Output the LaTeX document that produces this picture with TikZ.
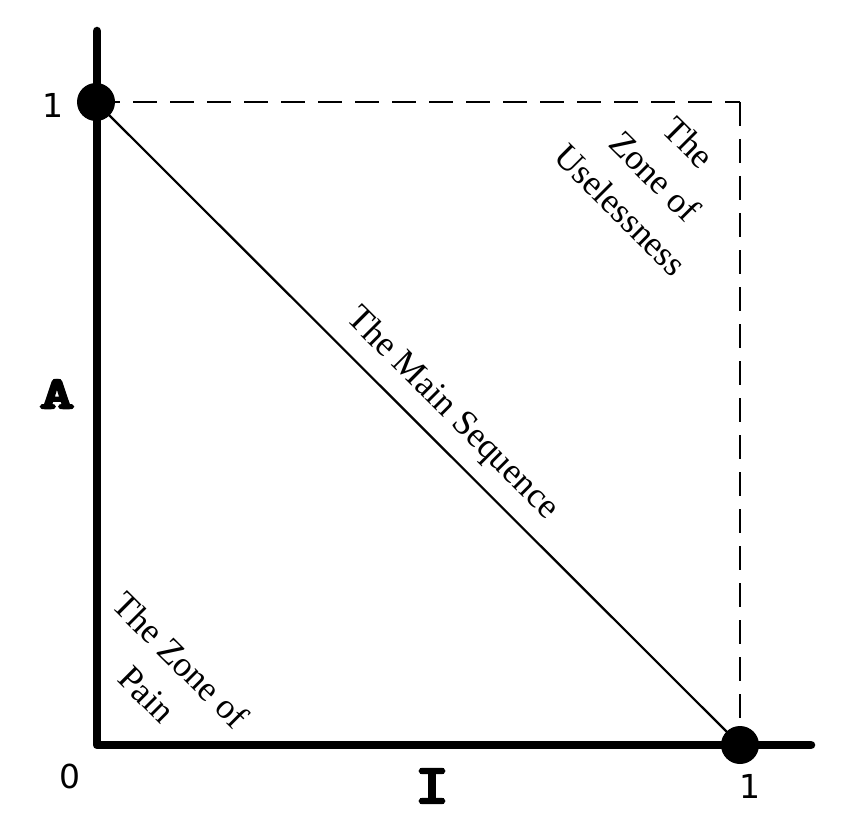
\documentclass[tikz,border=0pt]{standalone}
\usepackage{fontspec}
\setmainfont{Liberation Serif}
\newfontfamily\numfont{DejaVu Sans}
\newfontfamily\tfont{lmmonolt10-bold.otf}[FakeBold=4]
\begin{document}
\begin{tikzpicture}[x=1pt,y=-1pt,
  axis/.style={line width=8.5pt, line cap=round, line join=round},
  dot/.style={circle, fill=black, inner sep=0pt, minimum size=38pt},
  diag/.style={line width=2.2pt},
  guide/.style={line width=2.5pt, dash pattern=on 24pt off 13pt},
  zone/.style={font=\fontsize{35.5}{48}\selectfont, align=center, rotate=-45, inner sep=0pt},
  num/.style={font=\numfont\fontsize{33}{40}\selectfont, inner sep=0pt},
  axlbl/.style={font=\tfont\fontsize{46}{50}\selectfont, inner sep=0pt}]
\useasboundingbox (0,0) rectangle (842,834);
\coordinate (top) at (97,31);
\coordinate (O) at (97,745);
\coordinate (right) at (811,745);
\coordinate (C) at (740,102);
\node[dot] (P) at (96,102) {};
\node[dot] (Q) at (740,745) {};
\draw[axis] (top) -- (O) -- (right);
\draw[guide] (P.center) -- (C);
\draw[guide] (C) -- (Q.center);
\draw[diag] (P.center) -- (Q.center);
\node[zone] (ms) at (452,414) {The Main Sequence};
\node[zone] (zu) at (655,176) {The\\Zone of\\Uselessness};
\node[zone] (zp) at (164,677) {The Zone of\\Pain};
\node[num] (one) at (53,105) {1};
\node[num] (zero) at (70,776) {0};
\node[num] (oneb) at (750,786) {1};
\node[axlbl] (A) at (57,394) {\scalebox{1.45}[1]{A}};
\node[axlbl,font=\tfont\fontsize{56}{60}\selectfont] (I) at (432,786) {\scalebox{1.15}[1]{I}};
\end{tikzpicture}
\end{document}
